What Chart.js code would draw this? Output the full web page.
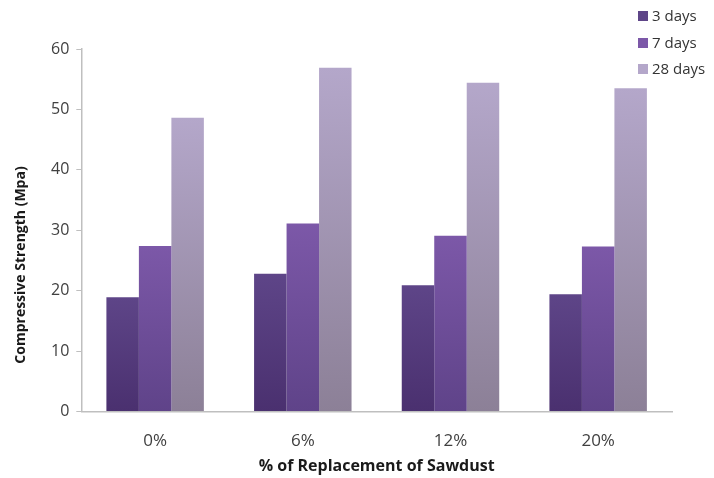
<!DOCTYPE html>
<html>
<head>
<meta charset="utf-8">
<script src="https://cdn.jsdelivr.net/npm/chart.js@4/dist/chart.umd.min.js"></script>
<style>
  html, body { margin: 0; padding: 0; background: #fff; }
  #wrap { position: relative; width: 714px; height: 478px; }
  #legend { position: absolute; left: 638px; top: 4px; font-family: "Open Sans", sans-serif; font-size: 15px; color: #333; }
  #legend div { height: 26.5px; line-height: 22px; white-space: nowrap; }
  #legend span.box { display: inline-block; width: 10px; height: 10px; margin-right: 4px; vertical-align: 0px; }
</style>
</head>
<body>
<div id="wrap">
  <canvas id="strength-chart" width="714" height="478"></canvas>
  <div id="legend"></div>
</div>
<script>
// replacement levels and strengths (MPa) at each curing age
let replacement = ['0%', '6%', '12%', '20%'];
let seriesNames = ['3 days', '7 days', '28 days'];
let days3 = [18.9, 22.8, 20.9, 19.4];
let days7 = [27.4, 31.1, 29.1, 27.3];
let days28 = [48.6, 56.9, 54.4, 53.5];
let yTicks = [0, 10, 20, 30, 40, 50, 60];
let yTitle = 'Compressive Strength (Mpa)';

// top / bottom colours of each series' gradient
let shades = [
  ['#5e4588', '#4a306f'],
  ['#7c58a8', '#5f4389'],
  ['#b4a7ca', '#8c8097'],
];

let canvas = document.querySelector('#strength-chart');
let context = canvas.getContext('2d');

// each bar gets its own vertical gradient, light at the top
function barGradient(i) {
  return (ctx) => {
    let chart = ctx.chart;
    let area = chart.chartArea;
    if (!area || ctx.raw === undefined) return shades[i][0];
    let top = chart.scales.y.getPixelForValue(ctx.raw);
    let g = chart.ctx.createLinearGradient(0, top, 0, area.bottom);
    g.addColorStop(0, shades[i][0]);
    g.addColorStop(1, shades[i][1]);
    return g;
  };
}

let values = [days3, days7, days28];
let font = 'Open Sans';

// y axis title sits a bit below the middle of the axis
let yTitlePlugin = {
  id: 'yTitle',
  afterDraw(chart) {
    let c = chart.ctx;
    c.save();
    c.translate(21, 265);
    c.rotate(-Math.PI / 2);
    c.font = `bold 14px "${font}"`;
    c.fillStyle = '#1a1a1a';
    c.textAlign = 'center';
    c.textBaseline = 'middle';
    c.fillText(yTitle, 0, 0);
    c.restore();
  },
};

let chart = new Chart(context, {
  type: 'bar',
  data: {
    labels: replacement,
    datasets: seriesNames.map((name, i) => ({
      label: name,
      data: values[i],
      backgroundColor: barGradient(i),
      borderWidth: 0,
      categoryPercentage: 0.66,
      barPercentage: 1.0,
    })),
  },
  plugins: [yTitlePlugin],
  options: {
    responsive: false,
    animation: false,
    layout: { padding: { top: 49, right: 42, left: 44, bottom: 0 } },
    plugins: {
      legend: { display: false },
      tooltip: { enabled: false },
    },
    scales: {
      x: {
        grid: { display: false, drawTicks: false },
        border: { display: true, color: '#bfbfbf', width: 1.5 },
        ticks: { color: '#404040', padding: 20, font: { family: font, size: 17 } },
        title: {
          display: true,
          text: '% of Replacement of Sawdust',
          color: '#1a1a1a',
          padding: { top: -15, bottom: 2 },
          font: { family: font, size: 16, weight: 'bold' },
        },
      },
      y: {
        min: 0,
        max: 60,
        afterBuildTicks: (scale) => { scale.ticks = yTicks.map((v) => ({ value: v })); },
        grid: { drawOnChartArea: false, drawTicks: true, tickLength: 5, color: '#bfbfbf' },
        border: { display: true, color: '#bfbfbf', width: 1.5 },
        ticks: { color: '#404040', padding: 7, font: { family: font, size: 16 } },
      },
    },
  },
});

// legend built from the series names
let legend = document.querySelector('#legend');
seriesNames.forEach((name, i) => {
  let row = document.createElement('div');
  let box = document.createElement('span');
  box.className = 'box';
  box.style.background = shades[i][0];
  row.appendChild(box);
  row.appendChild(document.createTextNode(name));
  legend.appendChild(row);
});
</script>
</body>
</html>
